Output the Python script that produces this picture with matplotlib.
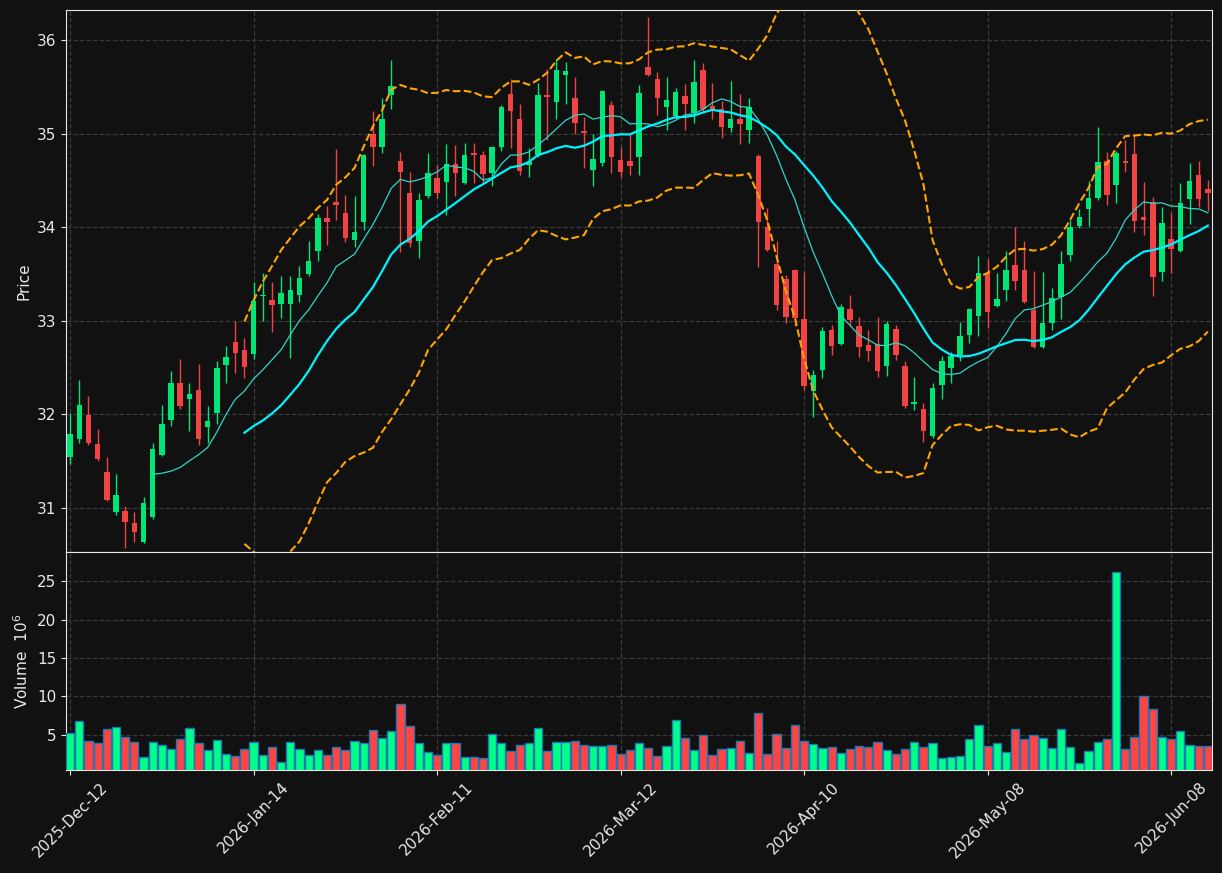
import numpy as np
import pandas as pd
import matplotlib
matplotlib.use('Agg')
import matplotlib.pyplot as plt

# daily OHLC + volume (millions)
opens = [31.55,31.74,31.99,31.68,31.38,30.96,30.97,30.84,30.64,30.90,
         31.57,31.94,32.34,32.16,32.26,31.87,32.02,32.53,32.77,32.69,
         32.65,33.26,33.22,33.18,33.18,33.28,33.50,33.75,34.10,34.27,
         34.15,33.86,34.06,35.00,34.86,35.41,34.71,34.37,33.85,34.33,
         34.52,34.48,34.67,34.47,34.79,34.77,34.58,34.86,35.42,35.15,
         34.66,34.77,35.41,35.34,35.63,35.38,35.03,34.61,34.69,35.31,
         34.72,34.71,34.75,35.71,35.58,35.28,35.19,35.40,35.22,35.68,
         35.29,35.26,35.06,35.15,35.04,34.76,34.00,33.61,33.45,33.54,
         33.02,32.25,32.47,32.90,32.75,33.13,32.94,32.74,32.75,32.52,
         32.91,32.52,32.11,32.06,31.77,32.31,32.50,32.63,32.85,33.05,
         33.51,33.16,33.33,33.60,33.54,33.12,32.72,32.98,33.25,33.70,
         34.01,34.19,34.31,34.71,34.45,34.71,34.78,34.11,34.27,33.52,
         33.87,33.74,34.30,34.56,34.41]
highs = [32.01,32.37,32.20,31.84,31.55,31.36,31.02,30.96,31.12,31.69,
         32.10,32.46,32.59,32.33,32.54,32.09,32.57,32.73,33.00,32.82,
         33.41,33.51,33.41,33.48,33.48,33.58,33.85,34.14,34.23,34.83,
         34.34,34.33,34.78,35.24,35.38,35.79,34.80,34.59,34.37,34.79,
         34.66,34.89,34.88,34.90,34.90,34.81,34.87,35.30,35.58,35.32,
         34.85,35.54,35.69,35.80,35.76,35.60,35.18,34.99,35.47,35.35,
         34.86,34.99,35.52,36.25,35.66,35.60,35.49,35.53,35.79,35.75,
         35.54,35.35,35.56,35.42,35.38,34.78,34.20,33.85,33.49,33.55,
         33.52,32.47,32.93,32.96,33.18,33.28,33.04,32.90,33.04,33.00,
         32.96,32.57,32.40,32.12,32.34,32.62,32.67,32.99,33.14,33.69,
         33.66,33.51,33.74,34.00,33.85,33.53,33.52,33.35,33.74,34.08,
         34.19,34.49,35.07,34.80,34.81,34.93,34.99,34.48,34.32,34.21,
         34.15,34.47,34.68,34.71,34.50]
lows = [31.47,31.69,31.67,31.50,31.07,30.93,30.57,30.64,30.63,30.88,
        31.56,31.88,32.06,31.82,31.67,31.69,31.90,32.33,32.44,32.39,
        32.59,33.00,32.88,33.03,32.60,33.20,33.48,33.64,33.81,34.08,
        33.84,33.79,33.97,34.65,34.79,35.26,33.73,33.79,33.67,34.31,
        34.31,34.13,34.33,34.46,34.47,34.46,34.44,34.81,34.85,34.56,
        34.54,34.75,34.93,35.16,35.32,35.00,34.63,34.44,34.65,34.58,
        34.54,34.56,34.56,35.61,35.20,35.04,35.16,35.04,35.11,35.23,
        35.15,34.95,35.02,34.89,34.90,33.57,33.74,33.12,32.98,32.94,
        32.26,31.97,32.39,32.63,32.74,32.94,32.61,32.57,32.40,32.41,
        32.58,32.07,32.05,31.70,31.75,32.16,32.33,32.57,32.76,32.84,
        32.92,33.15,33.21,33.33,33.19,32.71,32.71,32.90,33.02,33.64,
        33.99,34.01,34.29,34.24,34.26,34.59,33.95,33.92,33.26,33.43,
        33.51,33.73,34.03,34.21,34.17]
closes = [31.79,32.10,31.69,31.52,31.09,31.14,30.85,30.74,31.05,31.63,
          31.90,32.33,32.09,32.22,31.74,31.93,32.50,32.61,32.66,32.51,
          33.21,33.28,33.17,33.30,33.33,33.46,33.64,34.10,34.05,34.24,
          33.88,33.95,34.77,34.86,35.15,35.51,34.59,33.83,34.29,34.58,
          34.37,34.67,34.58,34.77,34.77,34.57,34.86,35.28,35.24,34.60,
          34.70,35.41,35.39,35.68,35.67,35.11,35.01,34.73,35.45,34.75,
          34.59,34.65,35.43,35.63,35.38,35.36,35.44,35.32,35.55,35.26,
          35.26,35.07,35.15,35.10,35.28,34.06,33.76,33.17,33.04,33.03,
          32.30,32.42,32.89,32.73,33.15,33.01,32.72,32.68,32.46,32.97,
          32.63,32.09,32.13,31.82,32.28,32.57,32.62,32.84,33.13,33.51,
          33.09,33.23,33.54,33.42,33.20,32.72,32.98,33.24,33.61,34.00,
          34.11,34.31,34.70,34.34,34.79,34.68,34.07,34.08,33.47,34.04,
          33.77,34.26,34.49,34.30,34.37]
volumes = [5.23,6.80,4.18,3.92,5.75,6.02,4.70,4.05,2.08,4.05,
           3.66,3.13,4.44,5.88,3.92,3.00,4.31,2.48,2.21,3.13,
           4.05,2.35,3.39,1.43,4.05,3.13,2.35,3.00,2.35,3.39,
           3.00,4.18,3.92,5.62,4.57,5.49,9.03,6.15,3.92,2.74,
           2.35,3.92,3.92,2.08,2.08,1.95,5.10,3.92,2.87,3.66,
           3.92,5.88,2.87,4.05,4.05,4.18,3.66,3.53,3.53,3.66,
           2.48,3.00,3.92,3.26,2.21,3.53,6.93,4.57,3.00,4.97,
           2.35,3.13,3.26,4.18,2.61,7.85,2.48,5.10,3.26,6.28,
           4.18,3.79,3.26,3.39,2.61,3.13,3.53,3.39,4.05,3.00,
           2.48,3.13,4.05,3.39,3.92,1.95,2.08,2.21,4.44,6.28,
           3.53,3.92,2.74,5.75,4.44,4.97,4.57,3.26,5.75,3.39,
           1.30,2.87,4.05,4.44,26.2,3.13,4.70,10.08,8.37,4.70,
           4.44,5.49,3.66,3.53,3.53]
tick_pos = [0, 20, 40, 60, 80, 100, 120]
tick_labels = ['2025-Dec-12', '2026-Jan-14', '2026-Feb-11', '2026-Mar-12',
               '2026-Apr-10', '2026-May-08', '2026-Jun-08']

df = pd.DataFrame({'o': opens, 'h': highs, 'l': lows, 'c': closes, 'v': volumes})
x = np.arange(len(df))
up = df.c >= df.o

ma10 = df.c.rolling(10).mean()
ma20 = df.c.rolling(20).mean()
sd20 = df.c.rolling(20).std()
bb_up = ma20 + 2 * sd20
bb_lo = ma20 - 2 * sd20

bg = '#111111'
fg = '#e8e8e8'
c_up, c_dn = '#00e676', '#f04444'

fig = plt.figure(figsize=(12.22, 8.73), dpi=100, facecolor=bg)
ax = fig.add_axes([0.054, 0.3677, 0.9378, 0.6209], facecolor=bg)
axv = fig.add_axes([0.054, 0.118, 0.9378, 0.2497], facecolor=bg, sharex=ax)

# candles
cols = np.where(up, c_up, c_dn)
ax.vlines(x, df.l, df.h, colors=cols, linewidth=1, zorder=3)
body_lo = np.minimum(df.o, df.c)
body_h = np.maximum(np.abs(df.c - df.o), 0.02)
ax.bar(x, body_h, bottom=body_lo, width=0.6, color=cols, linewidth=0, zorder=4)

ax.plot(x, ma10, color='#2fd6c8', lw=0.9, zorder=5)
ax.plot(x, ma20, color='#00f2ff', lw=1.6, zorder=5)
ax.plot(x, bb_up, color='#ffa500', lw=1.5, ls='--', zorder=5)
ax.plot(x, bb_lo, color='#ffa500', lw=1.5, ls='--', zorder=5)

# volume
vcols = np.where(up, '#00ff88', '#ff4444')
axv.bar(x, df.v, width=0.9, color=vcols, edgecolor='#1f77b4', linewidth=1, zorder=3)

ax.set_xlim(-0.45, len(df) - 0.55)
ax.set_ylim(30.53, 36.32)
ax.set_yticks([31, 32, 33, 34, 35, 36])
axv.set_ylim(0.3 * df.v.min(), 1.1 * df.v.max())
axv.set_yticks([5, 10, 15, 20, 25])

axv.set_xticks(tick_pos)
axv.set_xticklabels(tick_labels, rotation=45, ha='center')
plt.setp(ax.get_xticklabels(), visible=False)

ax.set_ylabel('Price', color=fg, fontsize=11)
axv.set_ylabel('Volume  $10^{6}$', color=fg, fontsize=11)

for a in (ax, axv):
    a.grid(True, color='#3a3a3a', linestyle='--', linewidth=0.9)
    a.set_axisbelow(True)
    a.tick_params(colors=fg, labelsize=11)
    for s in a.spines.values():
        s.set_color(fg)
ax.tick_params(axis='x', length=0)

fig.savefig('out.png', facecolor=bg)
